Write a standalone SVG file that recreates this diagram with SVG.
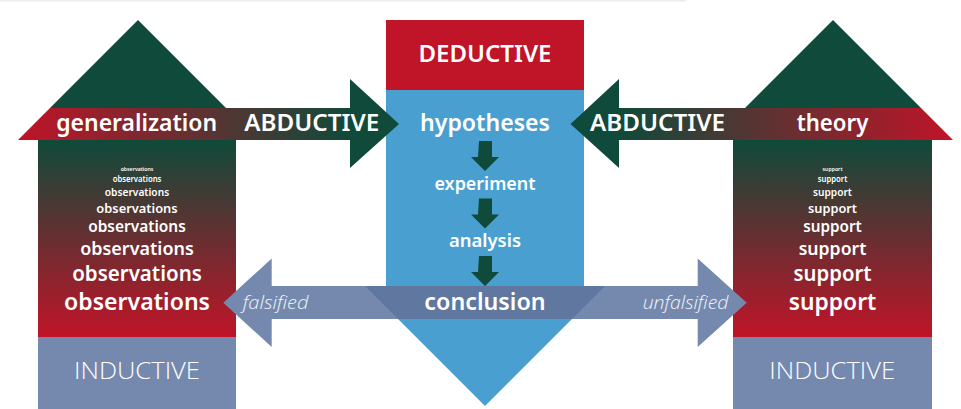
<svg xmlns="http://www.w3.org/2000/svg" width="961" height="409" viewBox="0 0 961 409">
  <defs>
    <linearGradient id="bandL" gradientUnits="userSpaceOnUse" x1="18" y1="0" x2="352" y2="0">
      <stop offset="0" stop-color="#c01428"/>
      <stop offset="1" stop-color="#0f4a3a"/>
    </linearGradient>
    <linearGradient id="bandR" gradientUnits="userSpaceOnUse" x1="619" y1="0" x2="953" y2="0">
      <stop offset="0" stop-color="#0f4a3a"/>
      <stop offset="1" stop-color="#c01428"/>
    </linearGradient>
    <linearGradient id="body" gradientUnits="userSpaceOnUse" x1="0" y1="140" x2="0" y2="337">
      <stop offset="0" stop-color="#0f4a3a"/>
      <stop offset="1" stop-color="#c01428"/>
    </linearGradient>
    <style>
      .t { font-family: "Noto Sans", "Open Sans", "Liberation Sans", sans-serif; font-weight: 600; fill: #ffffff; text-anchor: middle; }
      .lt { font-family: "Open Sans", "Noto Sans", "Liberation Sans", sans-serif; font-weight: 300; fill: #ffffff; text-anchor: middle; }
      .it { font-family: "Open Sans", "Noto Sans", "Liberation Sans", sans-serif; font-weight: 300; font-style: italic; fill: #f2f4fa; text-anchor: middle; }
      .green { fill: #0f4a3a; }
      .slate { fill: #7589ae; }
      .slateDark { fill: #6077a0; }
    </style>
  </defs>

  <rect x="0" y="0" width="686" height="1.5" fill="#ececec"/>

  <!-- deductive column: red header over a wide blue down-arrow -->
  <g id="deductive">
    <path d="M386,90 H584 V286 H605 L485,406 L365,286 H386 Z" fill="#4a9fd1"/>
    <rect x="386" y="20" width="198" height="70" fill="#c01428"/>
    <text class="t" x="485" y="61.5" font-size="23" textLength="133" lengthAdjust="spacingAndGlyphs">DEDUCTIVE</text>
    <text class="t" x="485" y="131" font-size="24" textLength="130" lengthAdjust="spacingAndGlyphs">hypotheses</text>
    <text class="t" x="485" y="189.5" font-size="18" textLength="101" lengthAdjust="spacingAndGlyphs">experiment</text>
    <text class="t" x="485" y="246.5" font-size="18" textLength="72" lengthAdjust="spacingAndGlyphs">analysis</text>
  </g>

  <!-- left house: generalization / observations / INDUCTIVE -->
  <g id="induction-left">
    <polygon class="green" points="138,20 226,108 50,108"/>
    <rect x="38" y="140" width="198" height="197" fill="url(#body)"/>
    <rect class="slate" x="38" y="337" width="198" height="72"/>
    <polygon points="50,108 352,108 352,140 18,140" fill="url(#bandL)"/>
    <text class="t" x="136.7" y="131" font-size="24" textLength="161" lengthAdjust="spacingAndGlyphs">generalization</text>
    <text class="t" x="137" y="171.1" font-size="5.4" textLength="32.7" lengthAdjust="spacingAndGlyphs">observations</text>
    <text class="t" x="137" y="181.9" font-size="8" textLength="48.7" lengthAdjust="spacingAndGlyphs">observations</text>
    <text class="t" x="137" y="195.8" font-size="10.6" textLength="64.3" lengthAdjust="spacingAndGlyphs">observations</text>
    <text class="t" x="137" y="212.7" font-size="13.3" textLength="81.3" lengthAdjust="spacingAndGlyphs">observations</text>
    <text class="t" x="137" y="232.3" font-size="16" textLength="97.7" lengthAdjust="spacingAndGlyphs">observations</text>
    <text class="t" x="137" y="255.2" font-size="18.7" textLength="113.7" lengthAdjust="spacingAndGlyphs">observations</text>
    <text class="t" x="137" y="281" font-size="21.3" textLength="129.7" lengthAdjust="spacingAndGlyphs">observations</text>
    <text class="t" x="137" y="309.6" font-size="24" textLength="146" lengthAdjust="spacingAndGlyphs">observations</text>
    <text class="lt" x="137" y="379.3" font-size="24.5" textLength="126" lengthAdjust="spacingAndGlyphs">INDUCTIVE</text>
  </g>

  <!-- right house: theory / support / INDUCTIVE -->
  <g id="induction-right">
    <polygon class="green" points="833,20 921,108 745,108"/>
    <rect x="733" y="140" width="199" height="197" fill="url(#body)"/>
    <rect class="slate" x="733" y="337" width="199" height="72"/>
    <polygon points="619,108 921,108 953,140 619,140" fill="url(#bandR)"/>
    <text class="t" x="832.5" y="131" font-size="24" textLength="71.7" lengthAdjust="spacingAndGlyphs">theory</text>
    <text class="t" x="832.5" y="171.1" font-size="5.4" textLength="20" lengthAdjust="spacingAndGlyphs">support</text>
    <text class="t" x="832.5" y="181.9" font-size="8" textLength="29.7" lengthAdjust="spacingAndGlyphs">support</text>
    <text class="t" x="832.5" y="195.8" font-size="10.6" textLength="39" lengthAdjust="spacingAndGlyphs">support</text>
    <text class="t" x="832.5" y="212.7" font-size="13.3" textLength="49" lengthAdjust="spacingAndGlyphs">support</text>
    <text class="t" x="832.5" y="232.3" font-size="16" textLength="58.7" lengthAdjust="spacingAndGlyphs">support</text>
    <text class="t" x="832.5" y="255.2" font-size="18.7" textLength="67.7" lengthAdjust="spacingAndGlyphs">support</text>
    <text class="t" x="832.5" y="281" font-size="21.3" textLength="78" lengthAdjust="spacingAndGlyphs">support</text>
    <text class="t" x="832.5" y="309.6" font-size="24" textLength="87.7" lengthAdjust="spacingAndGlyphs">support</text>
    <text class="lt" x="832.2" y="379.3" font-size="24.5" textLength="125.7" lengthAdjust="spacingAndGlyphs">INDUCTIVE</text>
  </g>

  <!-- connectors -->
  <g id="connectors">
    <!-- abductive arrowheads into the hypotheses -->
    <polygon class="green" points="350,79 399,124 350,168"/>
    <text class="t" x="311.8" y="130.7" font-size="23" textLength="135" lengthAdjust="spacingAndGlyphs">ABDUCTIVE</text>
    <polygon class="green" points="619,79 570.5,124 619,168"/>
    <text class="t" x="657.5" y="130.7" font-size="23" textLength="135" lengthAdjust="spacingAndGlyphs">ABDUCTIVE</text>

    <!-- deductive steps -->
    <path class="green" d="M479,141 h13 v16 h7 l-14,14 l-14,-14 h7 z"/>
    <path class="green" d="M479,198.5 h13 v16 h7 l-14,14 l-14,-14 h7 z"/>
    <path class="green" d="M479,256 h13 v16 h7 l-14,14 l-14,-14 h7 z"/>

    <!-- falsified / unfalsified outcomes -->
    <polygon class="slate" points="486,286 271.7,286 271.7,258.5 223.3,302.8 271.7,347 271.7,319 486,319"/>
    <polygon class="slate" points="484,286 697.7,286 697.7,258.5 746.7,302.8 697.7,347 697.7,319 484,319"/>
    <polygon class="slateDark" points="365,286 605,286 572,319 398,319"/>
    <text class="t" x="485" y="309.5" font-size="23" textLength="121.3" lengthAdjust="spacingAndGlyphs">conclusion</text>
    <text class="it" x="275.5" y="309.3" font-size="19" textLength="65.7" lengthAdjust="spacingAndGlyphs">falsified</text>
    <text class="it" x="685.5" y="309.3" font-size="19" textLength="85.7" lengthAdjust="spacingAndGlyphs">unfalsified</text>
  </g>
</svg>
